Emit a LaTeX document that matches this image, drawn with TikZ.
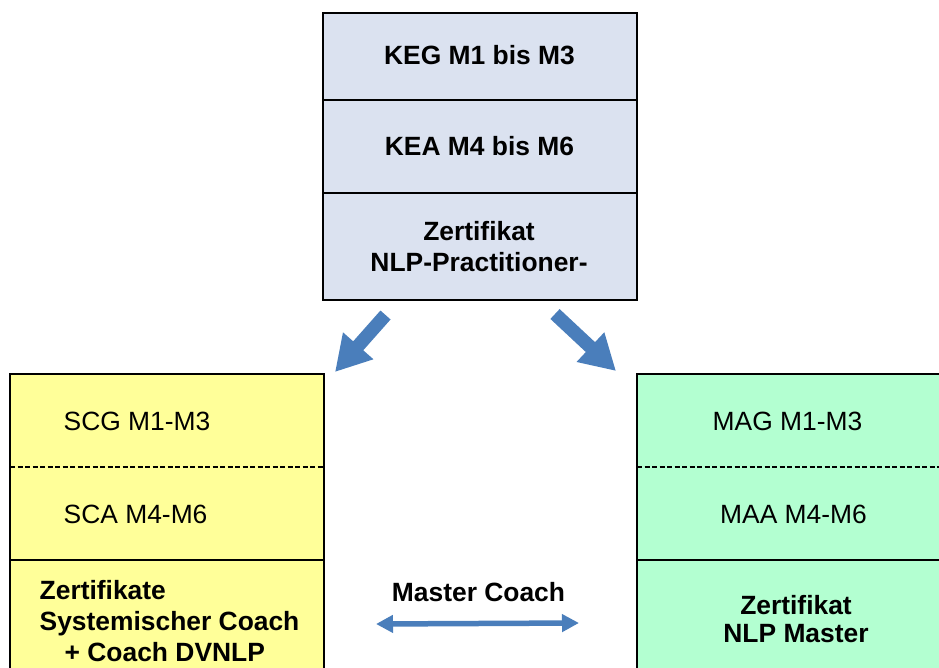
\documentclass[tikz,border=0pt]{standalone}
\usepackage{fontspec}
\setmainfont{Liberation Sans}
\usetikzlibrary{arrows.meta}
\definecolor{topfill}{HTML}{DBE2F0}
\definecolor{yelfill}{HTML}{FFFF99}
\definecolor{grnfill}{HTML}{B3FFD1}
\definecolor{arrblue}{HTML}{4A7EBB}
\begin{document}
\begin{tikzpicture}[x=1pt,y=-1pt,
  cellline/.style={draw=black,line width=2pt},
  dashline/.style={draw=black,line width=2pt,dash pattern=on 5pt off 2.5pt},
  lbl/.style={inner sep=0pt,font=\fontsize{26.4}{31}\selectfont},
  blbl/.style={inner sep=0pt,font=\fontsize{26.4}{31}\selectfont\bfseries},
  blockarrow/.style={draw=arrblue,line width=13.5pt,-{Triangle[width=38pt,length=35pt]}},
  dblarrow/.style={draw=arrblue,line width=5.5pt,{Triangle[width=17pt,length=17pt]}-{Triangle[width=17pt,length=17pt]}}]
\useasboundingbox (0,0) rectangle (939,668);
\clip (0,0) rectangle (939,668);
% top box
\filldraw[cellline,fill=topfill] (323,13) rectangle (637,300);
\draw[cellline] (323,100) -- (637,100);
\draw[cellline] (323,193) -- (637,193);
\node[blbl,anchor=base] (keg) at (479.5,65) {KEG M1 bis M3};
\node[blbl,anchor=base] (kea) at (479.5,156) {KEA M4 bis M6};
\node[blbl,anchor=north,align=center] (zp) at (479,221.5) {Zertifikat\\NLP-Practitioner-};
% left box
\filldraw[cellline,fill=yelfill] (10,374) rectangle (324,700);
\draw[dashline] (10,467) -- (324,467);
\draw[cellline] (10,560) -- (324,560);
\node[lbl,anchor=base west] (scg) at (63.5,430) {SCG M1-M3};
\node[lbl,anchor=base west] (sca) at (63.5,523.3) {SCA M4-M6};
\node[blbl,anchor=north west,align=left] (zs) at (39.5,580) {Zertifikate\\Systemischer Coach\\\hspace*{25pt}+ Coach DVNLP};
% right box
\filldraw[cellline,fill=grnfill] (637,374) rectangle (970,700);
\draw[dashline] (637,467) -- (970,467);
\draw[cellline] (637,560) -- (970,560);
\node[lbl,anchor=base] (mag) at (787.5,430) {MAG M1-M3};
\node[lbl,anchor=base] (maa) at (793.5,523.3) {MAA M4-M6};
\node[inner sep=0pt,font=\fontsize{26.4}{28}\selectfont\bfseries,anchor=north,align=center] (zm) at (796,595) {Zertifikat\\NLP Master};
% middle
\node[blbl,anchor=base] (mc) at (478.5,601) {Master Coach};
% arrows
\coordinate (la0) at (385.5,315);
\coordinate (la1) at (335,372);
\coordinate (ra0) at (555,314);
\coordinate (ra1) at (616,371);
\coordinate (da0) at (376,624);
\coordinate (da1) at (579,623);
\draw[blockarrow] (la0) -- (la1);
\draw[blockarrow] (ra0) -- (ra1);
\draw[dblarrow] (da0) -- (da1);
\end{tikzpicture}
\end{document}
